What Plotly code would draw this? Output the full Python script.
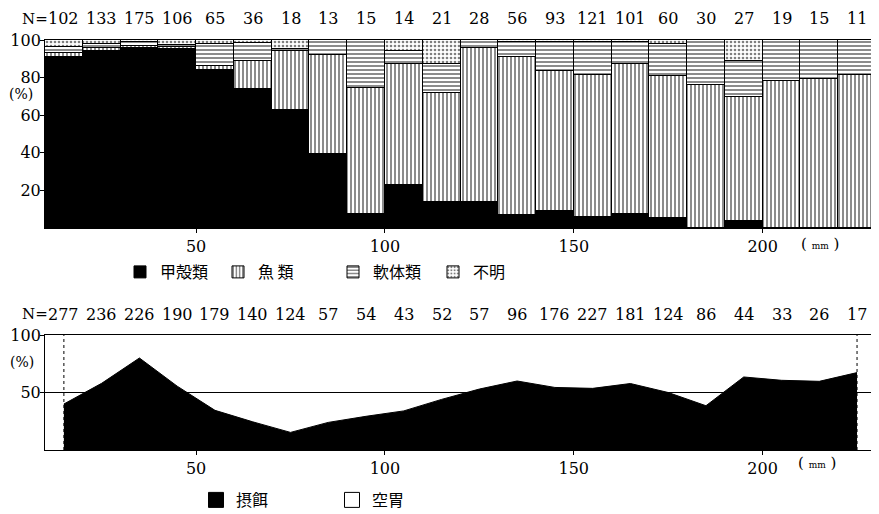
import plotly.graph_objects as go

# ---------------- data ----------------
size_mm = [15, 25, 35, 45, 55, 65, 75, 85, 95, 105, 115,
           125, 135, 145, 155, 165, 175, 185, 195, 205, 215, 225]
x_ticks = [50, 100, 150, 200]
x_ticktext = ["50", "100", "150", "200"]

n_diet = [102, 133, 175, 106, 65, 36, 18, 13, 15, 14, 21,
          28, 56, 93, 121, 101, 60, 30, 27, 19, 15, 11]
crustacea = [91, 94, 96, 95, 84, 74, 63, 39.5, 7.5, 23, 14,
             14, 7, 9, 6, 7.5, 5.5, 0, 3.5, 0, 0, 0]
fish = [2, 1.5, 1, 1.3, 2.4, 15, 31, 52.5, 67, 64, 58,
        82, 84, 74.5, 75.5, 79.5, 75.5, 76, 66, 78, 79, 81.5]
mollusca = [3.5, 2.5, 2, 1.2, 11.6, 9.5, 1, 8, 25.5, 7, 15,
            4, 8, 15.5, 17.5, 12, 17, 24, 19.5, 22, 21, 18.5]
unknown = [3.5, 2, 1, 2.5, 2, 1.5, 5, 0, 0, 6, 13,
           0, 1, 1, 1, 1, 2, 0, 11, 0, 0, 0]

n_feed = [277, 236, 226, 190, 179, 140, 124, 57, 54, 43, 52,
          57, 96, 176, 227, 181, 124, 86, 44, 33, 26, 17]
feeding = [40, 58, 80, 55.5, 34.5, 24.5, 15.3, 24, 29.3, 34, 44,
           53, 60, 54.4, 53.6, 57.8, 50, 38.5, 63.5, 60.6, 59.7, 67.3]

top_yticks = [20, 40, 60, 80, 100]
bot_yticks = [50, 100]

SERIF = "DejaVu Serif"
CJK = "Noto Sans CJK JP"

# page body has an 8px default margin; lay out in window pixels
OFF = 8
FW, FH = 879 - OFF, 514 - OFF
L, R = 45 - OFF, 3
PW = FW - L - R


def fx(X):
    return (X - OFF - L) / PW


def fy(Y):
    return 1 - (Y - OFF) / FH


fig = go.Figure()

series = [
    ("甲殻類", crustacea, "", "black", "legend", 120),
    ("魚 類", fish, "|", "white", "legend3", 218),
    ("軟体類", mollusca, "-", "white", "legend4", 333),
    ("不明", unknown, ".", "white", "legend5", 433),
]
legends = {}
for name, vals, shape, col, lg, lx in series:
    marker = dict(color=col, line=dict(color="black", width=1))
    if shape:
        marker["pattern"] = dict(shape=shape, fgcolor="black", bgcolor="white",
                                 size=4, solidity=0.45 if shape != "." else 0.35)
    fig.add_trace(go.Bar(
        x=size_mm, y=vals, name=name, width=10, marker=marker,
        xaxis="x", yaxis="y", legend=lg, showlegend=True,
    ))
    legends[lg] = dict(x=fx(lx), y=fy(272))

fig.add_trace(go.Scatter(
    x=size_mm, y=feeding, mode="lines", fill="tozeroy",
    fillcolor="black", line=dict(color="black", width=1),
    xaxis="x2", yaxis="y2", showlegend=False,
))
for name, col, lg, lx in (("摂餌", "black", "legend2", 196), ("空胃", "white", "legend6", 332)):
    fig.add_trace(go.Scatter(
        x=[None], y=[None], mode="markers", name=name,
        marker=dict(symbol="square", size=15, color=col,
                    line=dict(color="black", width=1)),
        xaxis="x2", yaxis="y2", legend=lg,
    ))
    legends[lg] = dict(x=fx(lx), y=fy(500))

ax_common = dict(showline=True, linecolor="black", linewidth=1, mirror=True,
                 ticks="outside", ticklen=4, tickcolor="black",
                 showgrid=False, zeroline=False, automargin=False,
                 tickfont=dict(family=SERIF, size=16, color="black"))


def ann(text, x, y, xref="paper", size=16):
    return dict(text=text, x=x, y=y, xref=xref, yref="paper", showarrow=False,
                xanchor="center", yanchor="middle",
                font=dict(family=SERIF, size=size, color="black"))


annotations = [ann("N=", fx(35), fy(19), size=15), ann("N=", fx(35), fy(314), size=15)]
for xv, n in zip(size_mm, n_diet):
    annotations.append(ann(str(n), xv, fy(19), xref="x"))
for xv, n in zip(size_mm, n_feed):
    annotations.append(ann(str(n), xv, fy(314), xref="x2"))
annotations.append(ann("(%)", fx(21), fy(94), size=14))
annotations.append(ann("(%)", fx(22), fy(362), size=14))
mm_txt = "( <span style='font-size:9px'>mm</span> )"
annotations.append(ann(mm_txt, fx(820), fy(244), size=15))
annotations.append(ann(mm_txt, fx(817), fy(463), size=15))

shapes = []
for xv in (size_mm[0], size_mm[-1]):
    shapes.append(dict(type="line", xref="x2", yref="y2", x0=xv, x1=xv, y0=0, y1=100,
                       line=dict(color="black", width=1, dash="dot"), layer="below"))

legend_layout = {}
for lg, pos in legends.items():
    legend_layout[lg] = dict(orientation="h", x=pos["x"], y=pos["y"],
                             xanchor="left", yanchor="middle",
                             font=dict(family=CJK, size=16, color="black"),
                             bgcolor="rgba(0,0,0,0)")

yax_extra = dict(ticklabelstandoff=-4)

fig.update_layout(
    width=FW, height=FH,
    margin=dict(l=L, r=R, t=0, b=0, autoexpand=False),
    paper_bgcolor="white", plot_bgcolor="white",
    barmode="stack", bargap=0,
    xaxis=dict(domain=[0, 1], range=[10, 230], tickvals=x_ticks, ticktext=x_ticktext,
               anchor="y", **ax_common),
    yaxis=dict(domain=[fy(228), fy(40)], range=[0, 100], tickvals=top_yticks,
               anchor="x", **ax_common, **yax_extra),
    xaxis2=dict(domain=[0, 0.994], range=[10, 228.7], tickvals=x_ticks, ticktext=x_ticktext,
                anchor="y2", **ax_common),
    yaxis2=dict(domain=[fy(450), fy(335)], range=[0, 100], tickvals=bot_yticks,
                anchor="x2", **{**ax_common, "showgrid": True},
                gridcolor="black", gridwidth=1, **yax_extra),
    annotations=annotations,
    shapes=shapes,
    showlegend=True,
    **legend_layout,
)

fig.write_html("out.html")
